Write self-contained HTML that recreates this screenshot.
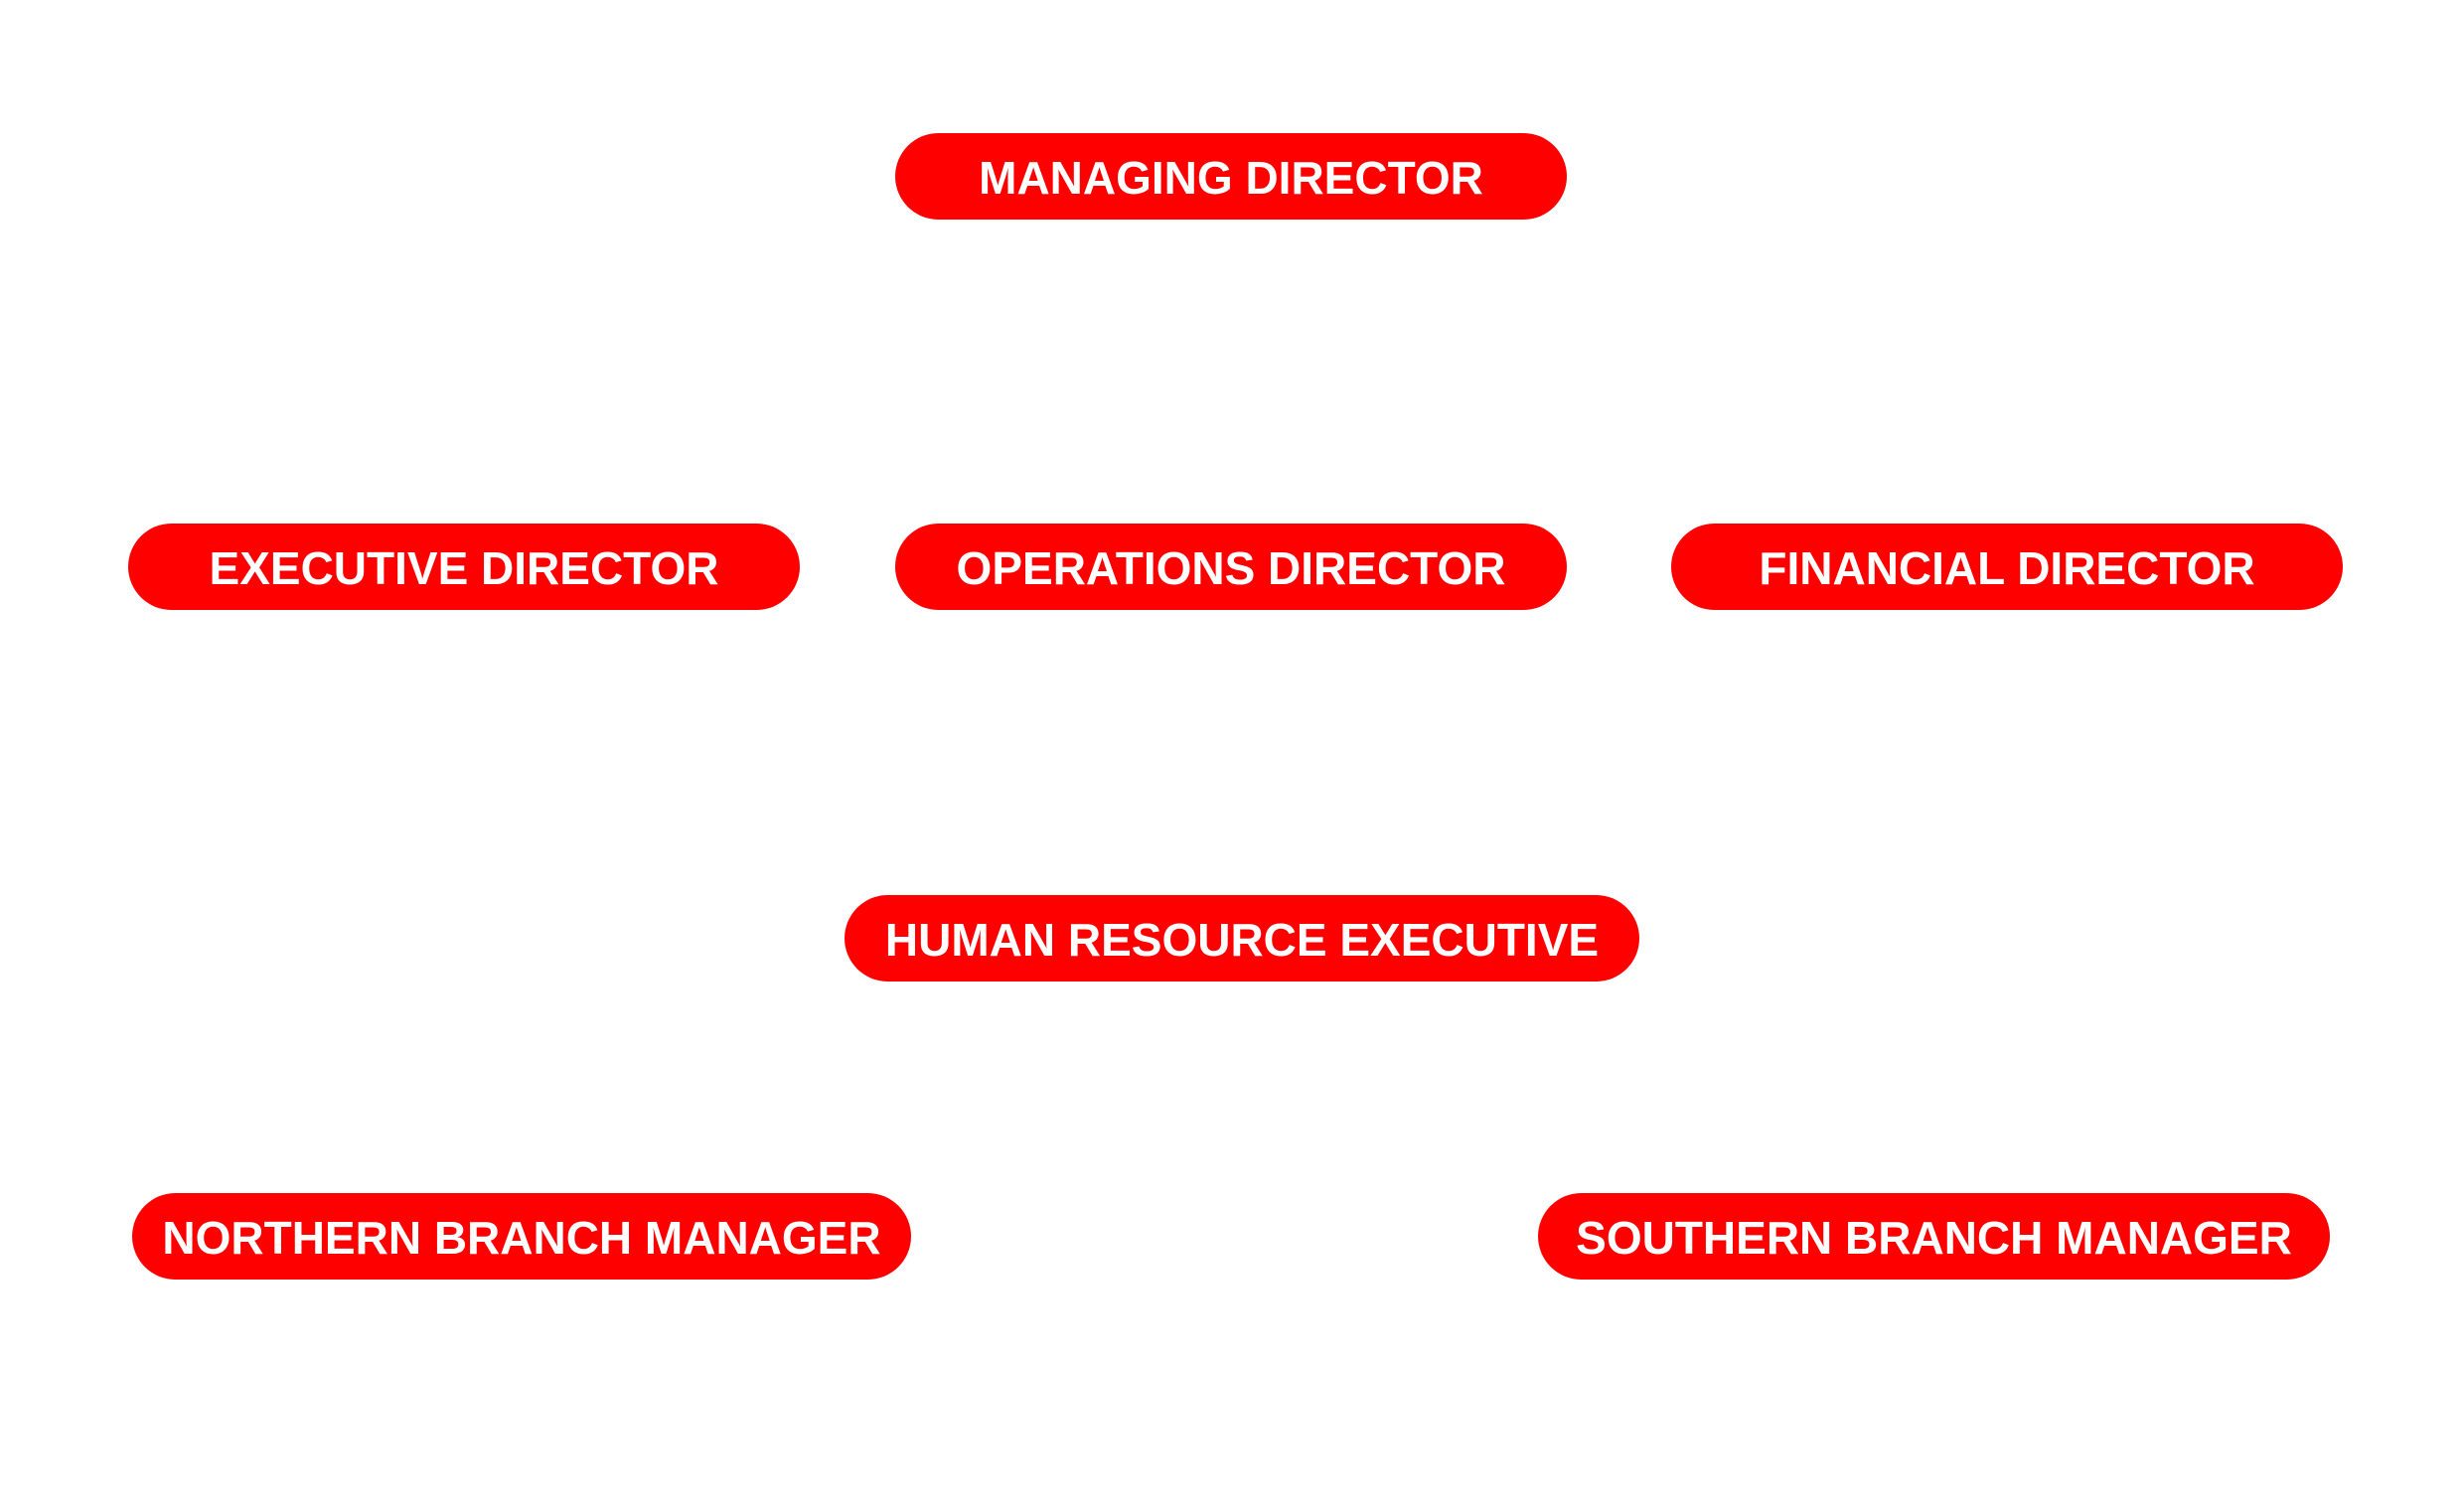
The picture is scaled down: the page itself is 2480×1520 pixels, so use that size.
<!DOCTYPE html>
<html><head><meta charset="utf-8"><style>
html,body{margin:0;padding:0;background:#fff;}
body{width:2480px;height:1520px;position:relative;overflow:hidden;}
.p{position:absolute;height:87px;border-radius:44px;background:#ff0000;color:#fff;box-sizing:border-box;padding-top:3px;
font-family:"Liberation Sans",sans-serif;font-weight:bold;font-size:46px;
display:flex;align-items:center;justify-content:center;white-space:nowrap;}
</style></head><body>
<div class="p" style="left:901px;top:134px;width:676px;">MANAGING DIRECTOR</div>
<div class="p" style="left:129px;top:527px;width:676px;">EXECUTIVE DIRECTOR</div>
<div class="p" style="left:901px;top:527px;width:676px;">OPERATIONS DIRECTOR</div>
<div class="p" style="left:1682px;top:527px;width:676px;">FINANCIAL DIRECTOR</div>
<div class="p" style="left:850px;top:901px;width:800px;">HUMAN RESOURCE EXECUTIVE</div>
<div class="p" style="left:133px;top:1201px;width:784px;">NORTHERN BRANCH MANAGER</div>
<div class="p" style="left:1548px;top:1201px;width:797px;">SOUTHERN BRANCH MANAGER</div>
</body></html>
